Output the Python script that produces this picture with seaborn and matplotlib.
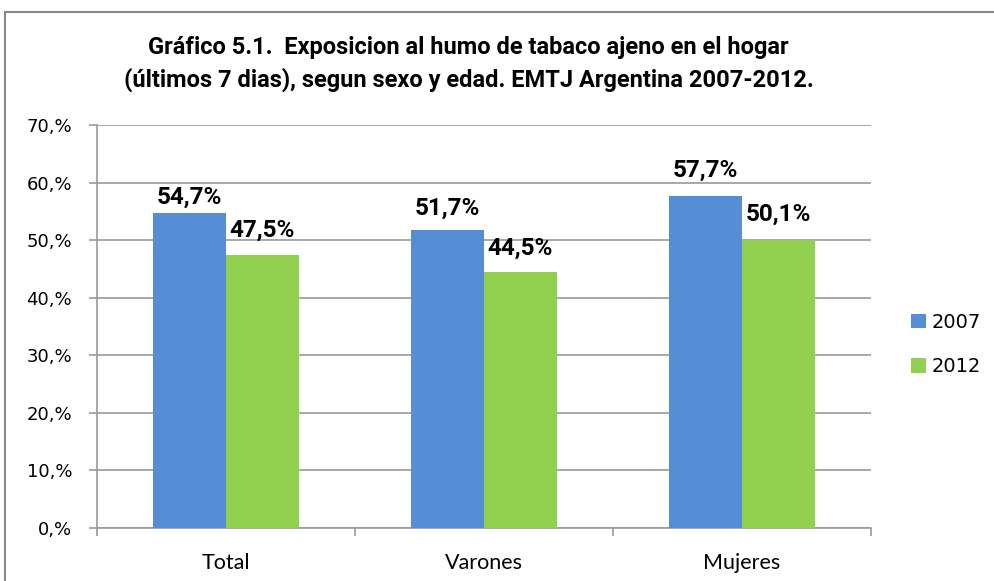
import pandas as pd
import seaborn as sns
import matplotlib.pyplot as plt
from matplotlib.patches import Rectangle
from matplotlib.ticker import FuncFormatter

categorias = ["Total", "Varones", "Mujeres"]
anios = ["2007", "2012"]
valores_2007 = [54.7, 51.7, 57.7]
valores_2012 = [47.5, 44.5, 50.1]
colores = ["#558ED5", "#92D050"]

df = pd.DataFrame({
    "grupo": categorias * 2,
    "anio": [anios[0]] * 3 + [anios[1]] * 3,
    "valor": valores_2007 + valores_2012,
})

sns.set_theme(style="white")
plt.rcParams["font.family"] = ["DejaVu Sans"]
plt.rcParams["text.color"] = "black"
plt.rcParams["xtick.color"] = "black"
plt.rcParams["ytick.color"] = "black"

negrita = ["Roboto", "DejaVu Sans"]

fig = plt.figure(figsize=(9.95, 5.81), dpi=100)
ax = fig.add_axes([0.0975, 0.0912, 0.7779, 0.6937])

sns.barplot(data=df, x="grupo", y="valor", hue="anio", palette=colores,
            width=0.566, saturation=1, linewidth=0, ax=ax, zorder=3)

# gap between bar top and label baseline (points)
offsets = [[7, 11.5, 14], [13, 12, 13.5]]
for cont, offs in zip(ax.containers, offsets):
    for rect, v, off in zip(cont, cont.datavalues, offs):
        ax.annotate(f"{v:.1f}%".replace(".", ","),
                    (rect.get_x() + rect.get_width() / 2, rect.get_height()),
                    xytext=(0, off), textcoords="offset points",
                    ha="center", va="baseline", fontsize=17.5, fontweight="bold",
                    family=negrita)

ax.set_ylim(0, 70)
ax.set_xlim(-0.5, 2.5)
ax.set_yticks(range(0, 71, 10))
ax.yaxis.set_major_formatter(FuncFormatter(lambda v, p: f"{int(v)},%"))
ax.grid(axis="y", color="#999999", linewidth=1.2, zorder=0)
ax.set_xlabel("")
ax.set_ylabel("")

for s in ["top", "right"]:
    ax.spines[s].set_visible(False)
for s in ["left", "bottom"]:
    ax.spines[s].set_color("#999999")
    ax.spines[s].set_linewidth(1.2)

ax.tick_params(axis="y", left=True, length=6, width=1.2, color="#999999",
               labelsize=13, pad=12)
ax.set_xticks([0, 1, 2])
ax.set_xticks([-0.5, 0.5, 1.5, 2.5], minor=True)
ax.tick_params(axis="x", which="major", bottom=False, labelsize=15.5, pad=12)
ax.tick_params(axis="x", which="minor", bottom=True, length=6, width=1.2, color="#999999")
for t in ax.get_xticklabels():
    t.set_family(["Lato", "DejaVu Sans"])

ax.legend(loc="center left", bbox_to_anchor=(0.9156, 0.407), bbox_transform=fig.transFigure,
          frameon=False, fontsize=14, handlelength=0.78, handleheight=0.78,
          handletextpad=0.3, labelspacing=1.3, borderpad=0, borderaxespad=0)

fig.text(0.471, 0.89, "Gráfico 5.1.  Exposicion al humo de tabaco ajeno en el hogar\n"
         "(últimos 7 dias), segun sexo y edad. EMTJ Argentina 2007-2012.",
         ha="center", va="center", fontsize=17, fontweight="bold", linespacing=1.42,
         family=negrita)

fig.patches.append(Rectangle((0.005, -0.05), 1.1, 1.03, transform=fig.transFigure,
                             fill=False, edgecolor="#888888", linewidth=1.5))

fig.savefig("out.png", dpi=100)
